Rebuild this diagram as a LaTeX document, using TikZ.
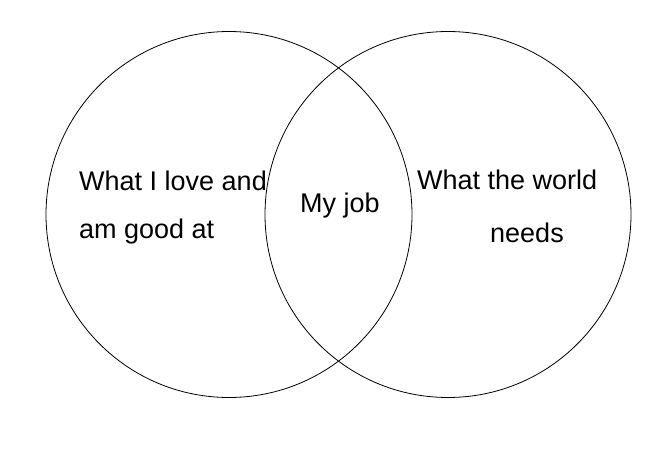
\documentclass[tikz,border=0pt]{standalone}
\usepackage{fontspec}
\setmainfont{Liberation Sans}
\usetikzlibrary{positioning}

\begin{document}
\begin{tikzpicture}[x=1pt,y=-1pt,every set/.style={circle,draw=black,line width=0.8pt,minimum size=366pt,inner sep=0pt}, every words/.style={inner sep=0pt,font=\fontsize{27}{48}\selectfont}]
\useasboundingbox (0,0) rectangle (670,450);
\node[every set] (love) at (229,214.5) {};
\node[every set] (world) at (448,214.5) {};

\node[every words, anchor=base west] (love text) at (79,190) {What I love and};
\node[every words, anchor=base west] (love text2) at (79,238) {am good at};
\node[every words, anchor=base] (job) at (340,212) {My job};
\node[every words, anchor=base west] (world text) at (417,189) {What the world};
\node[every words, anchor=base west] (world text2) at (490,242) {needs};
\end{tikzpicture}
\end{document}
